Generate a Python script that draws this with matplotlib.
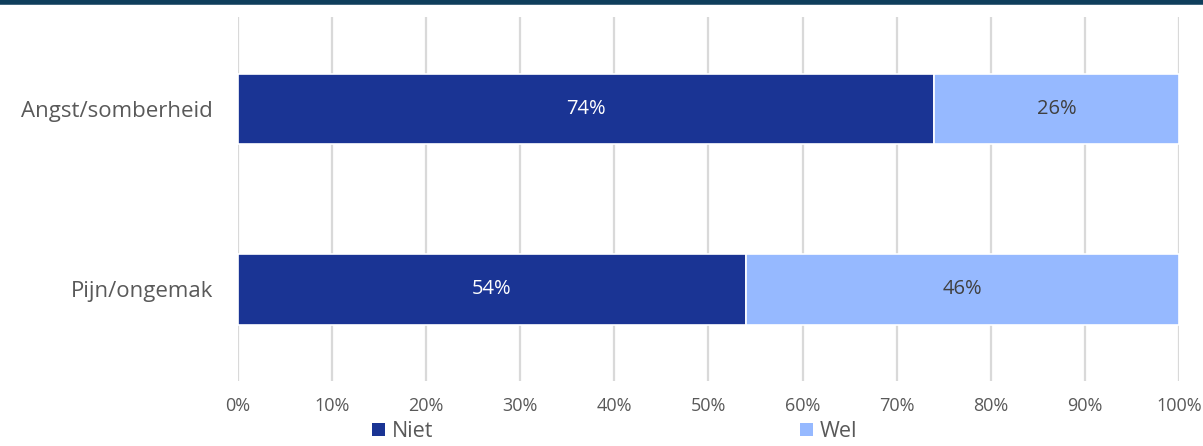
import matplotlib
matplotlib.use('Agg')
import matplotlib.pyplot as plt
from matplotlib.patches import Patch
from matplotlib.lines import Line2D

plt.rcParams['font.family'] = ['Open Sans', 'DejaVu Sans']

# Aandeel per klacht (procenten)
categories = ['Pijn/ongemak', 'Angst/somberheid']
niet = [54, 74]
wel = [46, 26]
series_names = ['Niet', 'Wel']

col_niet = '#1a3494'
col_wel = '#96b9ff'
text_gray = '#595959'

fig = plt.figure(figsize=(12.03, 4.46), dpi=100)
ax = fig.add_axes([0.1978, 0.145, 0.7822, 0.817])

ypos = list(range(len(categories)))
b1 = ax.barh(ypos, niet, height=0.39, color=col_niet, edgecolor='white', linewidth=1.2, zorder=3)
b2 = ax.barh(ypos, wel, left=niet, height=0.39, color=col_wel, edgecolor='white', linewidth=1.2, zorder=3)

for bar, v in zip(b1, niet):
    ax.text(bar.get_x() + bar.get_width() / 2, bar.get_y() + bar.get_height() / 2,
            f'{v}%', ha='center', va='center', color='white', fontsize=14.5, zorder=4)
for bar, v in zip(b2, wel):
    ax.text(bar.get_x() + bar.get_width() / 2, bar.get_y() + bar.get_height() / 2,
            f'{v}%', ha='center', va='center', color='#404040', fontsize=14.5, zorder=4)

ax.set_xlim(0, 100)
ax.set_ylim(-0.51, 1.51)
ax.set_xticks(range(0, 101, 10))
ax.set_xticklabels([f'{t}%' for t in range(0, 101, 10)], fontsize=13, color=text_gray)
ax.set_yticks(ypos)
ax.set_yticklabels(categories, fontsize=16, color=text_gray)
ax.tick_params(axis='both', length=0)
ax.tick_params(axis='x', pad=11)
ax.tick_params(axis='y', pad=18)
ax.grid(axis='x', color='#d9d9d9', linewidth=1.6, zorder=0)
for s in ax.spines.values():
    s.set_visible(False)

# legenda onder de grafiek
handles = [Patch(facecolor=col_niet), Patch(facecolor=col_wel)]
fig.legend(handles, series_names, loc='lower center', bbox_to_anchor=(0.511, -0.035), ncol=2,
           frameon=False, fontsize=15.5, handlelength=0.6, handleheight=0.6,
           handletextpad=0.35, columnspacing=17, labelcolor=text_gray)

# donkere lijn bovenaan
fig.add_artist(Line2D([0, 1], [0.995, 0.995], transform=fig.transFigure, color='#0f3e5c', linewidth=4))

fig.savefig('out.png', dpi=100)
